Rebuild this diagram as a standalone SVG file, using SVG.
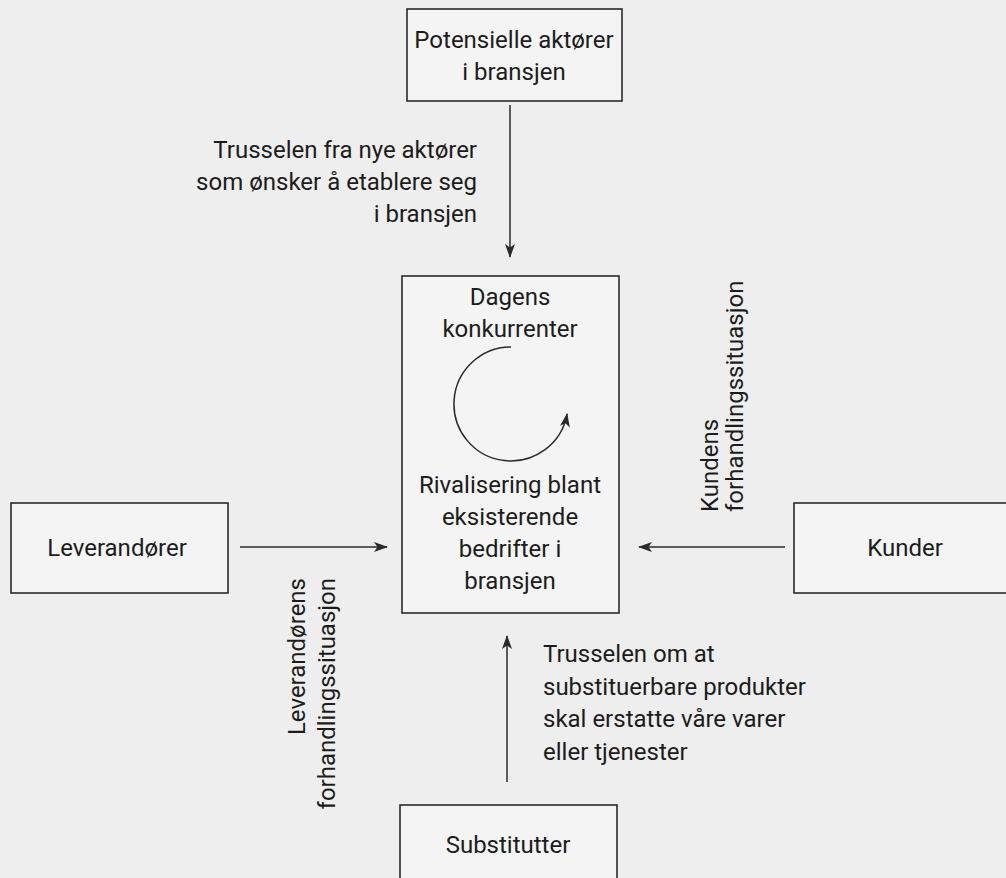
<svg xmlns="http://www.w3.org/2000/svg" width="1006" height="878" viewBox="0 0 1006 878">
<defs>
<style>
.bg{fill:#eeeeee}
.box{fill:#f4f4f4;stroke:#2a2a2a;stroke-width:1.6}
.t{font-family:Roboto,"Open Sans",sans-serif;font-size:24px;fill:#1c1c1c}
.c{text-anchor:middle}
.e{text-anchor:end}
.edge{fill:none;stroke:#2a2a2a;stroke-width:1.5}
</style>
<marker id="ah" viewBox="0 0 14 10" markerWidth="14" markerHeight="10" refX="13" refY="5" orient="auto" markerUnits="userSpaceOnUse">
<path d="M0,0 L14,5 L0,10 L3.5,5 z" fill="#2a2a2a"/>
</marker>
</defs>
<rect class="bg" x="0" y="0" width="1006" height="878"/>

<g id="potensielle">
<rect class="box" x="407" y="9" width="215" height="92"/>
<text class="t c" x="514" y="48">Potensielle aktører</text>
<text class="t c" x="514" y="80">i bransjen</text>
</g>

<g id="konkurrenter">
<rect class="box" x="402" y="276" width="217" height="337"/>
<text class="t c" x="510" y="305">Dagens</text>
<text class="t c" x="510" y="337">konkurrenter</text>
<text class="t c" x="510" y="493">Rivalisering blant</text>
<text class="t c" x="510" y="525">eksisterende</text>
<text class="t c" x="510" y="557">bedrifter i</text>
<text class="t c" x="510" y="589">bransjen</text>
</g>

<g id="leverandorer">
<rect class="box" x="11" y="503" width="217" height="90"/>
<text class="t c" x="117" y="556">Leverandører</text>
</g>

<g id="kunder">
<rect class="box" x="794" y="503" width="230" height="90"/>
<text class="t c" x="905" y="556">Kunder</text>
</g>

<g id="substitutter">
<rect class="box" x="400" y="805" width="217" height="90"/>
<text class="t c" x="508" y="853">Substitutter</text>
</g>

<g id="connectors">
<line class="edge" x1="510" y1="105" x2="510" y2="257" marker-end="url(#ah)"/>
<line class="edge" x1="240" y1="547" x2="387" y2="547" marker-end="url(#ah)"/>
<line class="edge" x1="785" y1="547" x2="639" y2="547" marker-end="url(#ah)"/>
<line class="edge" x1="507" y1="782" x2="507" y2="636" marker-end="url(#ah)"/>
<path class="edge" d="M511,347 A57,57 0 1 0 567.1,413.9" marker-end="url(#ah)"/>
</g>

<g id="labels">
<text class="t e" x="477" y="158">Trusselen fra nye aktører</text>
<text class="t e" x="477" y="190">som ønsker å etablere seg</text>
<text class="t e" x="477" y="222">i bransjen</text>
<text class="t" x="543" y="662">Trusselen om at</text>
<text class="t" x="543" y="695">substituerbare produkter</text>
<text class="t" x="543" y="727">skal erstatte våre varer</text>
<text class="t" x="543" y="760">eller tjenester</text>
<text class="t" transform="translate(718,512) rotate(-90)" x="0" y="0">Kundens</text>
<text class="t" transform="translate(743,512) rotate(-90)" x="0" y="0">forhandlingssituasjon</text>
<text class="t e" transform="translate(305,578) rotate(-90)" x="0" y="0">Leverandørens</text>
<text class="t e" transform="translate(335,578) rotate(-90)" x="0" y="0">forhandlingssituasjon</text>
</g>
</svg>
